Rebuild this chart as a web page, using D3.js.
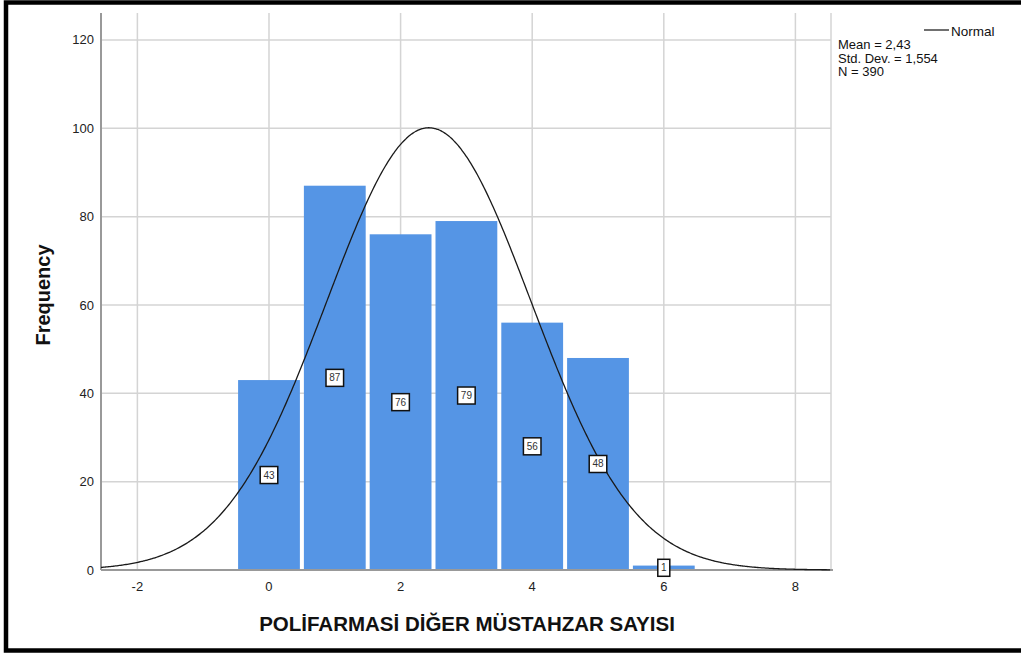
<!DOCTYPE html>
<html>
<head>
<meta charset="utf-8">
<script src="https://cdn.jsdelivr.net/npm/d3@7"></script>
<style>
  html, body { margin: 0; padding: 0; background: #fff; }
  svg { display: block; font-family: "Liberation Sans", Arial, sans-serif; }
</style>
</head>
<body>
<svg id="chart" width="1021" height="653"></svg>
<script>
// Histogram of the number of other medications, with a fitted normal curve
const binCenters = [0, 1, 2, 3, 4, 5, 6];
const counts = [43, 87, 76, 79, 56, 48, 1];
const xTicks = [-2, 0, 2, 4, 6, 8];
const yTicks = [0, 20, 40, 60, 80, 100, 120];
const stats = { mean: 2.43, sd: 1.554, n: 390 };
const statLines = ["Mean = 2,43", "Std. Dev. = 1,554", "N = 390"];

const svg = d3.select("#chart");
const plot = { left: 101, right: 831, top: 13, bottom: 570 };

const x = d3.scaleLinear().domain([-2.553, 8.541]).range([plot.left, plot.right]);
const y = d3.scaleLinear().domain([0, 126.1]).range([plot.bottom, plot.top]);
const barGap = 2;

// outer frame
svg.append("rect")
  .attr("x", 6).attr("y", 2.5).attr("width", 1040).attr("height", 648)
  .attr("fill", "none").attr("stroke", "#000").attr("stroke-width", 4.5);

// gridlines
const grid = svg.append("g").attr("stroke", "#d4d4d4").attr("stroke-width", 1.5);
grid.selectAll("line.h").data(yTicks.filter(d => d > 0)).join("line")
  .attr("x1", plot.left).attr("x2", plot.right)
  .attr("y1", d => y(d)).attr("y2", d => y(d));
grid.selectAll("line.v").data(xTicks).join("line")
  .attr("x1", d => x(d)).attr("x2", d => x(d))
  .attr("y1", plot.top).attr("y2", plot.bottom);
grid.append("line")
  .attr("x1", plot.right).attr("x2", plot.right)
  .attr("y1", plot.top).attr("y2", plot.bottom);

// bars, with a thin white gap between neighbours
svg.append("g").selectAll("rect").data(binCenters).join("rect")
  .attr("x", (d) => x(d - 0.5) + barGap)
  .attr("width", (d) => x(d + 0.5) - x(d - 0.5) - 2 * barGap)
  .attr("y", (d, i) => y(counts[i]))
  .attr("height", (d, i) => y(0) - y(counts[i]))
  .attr("fill", "#5595e5");

// axes
const axisG = svg.append("g").attr("stroke", "#999").attr("stroke-width", 2);
axisG.append("line").attr("x1", plot.left).attr("x2", plot.left)
  .attr("y1", plot.top).attr("y2", plot.bottom);
axisG.append("line").attr("x1", plot.left).attr("x2", plot.right + 2)
  .attr("y1", plot.bottom).attr("y2", plot.bottom);

// y tick labels
svg.append("g").selectAll("text").data(yTicks).join("text")
  .attr("x", 94).attr("y", d => y(d)).attr("dy", "0.35em")
  .attr("text-anchor", "end").attr("font-size", 13).attr("fill", "#222")
  .text(d => d);

// x tick labels
svg.append("g").selectAll("text").data(xTicks).join("text")
  .attr("x", d => x(d)).attr("y", 591)
  .attr("text-anchor", "middle").attr("font-size", 13).attr("fill", "#222")
  .text(d => d);

// normal curve scaled to counts (bin width 1)
const pdf = v => stats.n / (stats.sd * Math.sqrt(2 * Math.PI)) *
  Math.exp(-0.5 * Math.pow((v - stats.mean) / stats.sd, 2));
const xs = d3.range(x.domain()[0], x.domain()[1] + 0.001, 0.02);
svg.append("path")
  .datum(xs)
  .attr("fill", "none").attr("stroke", "#1a1a1a").attr("stroke-width", 1.3)
  .attr("d", d3.line().x(v => x(v)).y(v => y(pdf(v))).curve(d3.curveBasis));

// value labels at half bar height
const lab = svg.append("g").selectAll("g").data(binCenters).join("g")
  .attr("transform", (d, i) => `translate(${x(d)},${y(counts[i] / 2)})`);
lab.append("text")
  .attr("text-anchor", "middle").attr("dy", "0.35em")
  .attr("font-size", 10).attr("fill", "#333")
  .text((d, i) => counts[i]);
lab.each(function () {
  const g = d3.select(this);
  const bb = g.select("text").node().getBBox();
  const w = Math.max(bb.width + 6, 11);
  g.insert("rect", "text")
    .attr("x", -w / 2).attr("y", -8.5).attr("width", w).attr("height", 17)
    .attr("fill", "#fff").attr("stroke", "#111").attr("stroke-width", 1.5);
});

// legend
svg.append("line").attr("x1", 924).attr("x2", 949).attr("y1", 30).attr("y2", 30)
  .attr("stroke", "#333").attr("stroke-width", 1.4);
svg.append("text").attr("x", 951).attr("y", 35.5).attr("font-size", 13.5)
  .attr("fill", "#111").text("Normal");
svg.append("g").selectAll("text").data(statLines).join("text")
  .attr("x", 838).attr("y", (d, i) => 49 + i * 13.5)
  .attr("font-size", 13).attr("fill", "#111").text(d => d);

// axis titles
svg.append("text")
  .attr("x", (plot.left + plot.right) / 2 + 1).attr("y", 631)
  .attr("text-anchor", "middle").attr("font-size", 20.5).attr("font-weight", "bold")
  .attr("fill", "#111").text("POLİFARMASİ DİĞER MÜSTAHZAR SAYISI");
svg.append("text")
  .attr("transform", "translate(50,295) rotate(-90)")
  .attr("text-anchor", "middle").attr("font-size", 20).attr("font-weight", "bold")
  .attr("fill", "#111").text("Frequency");
</script>
</body>
</html>
